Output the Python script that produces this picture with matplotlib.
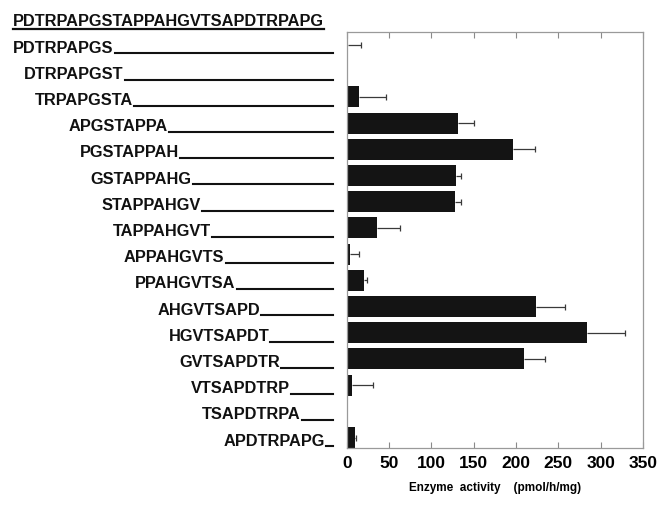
import matplotlib
matplotlib.use("Agg")
import matplotlib.pyplot as plt
from matplotlib.lines import Line2D
import numpy as np

# Parent sequence and the overlapping nonapeptides tested
header = "PDTRPAPGSTAPPAHGVTSAPDTRPAPG"
peptides = [
    "PDTRPAPGS", "DTRPAPGST", "TRPAPGSTA", "APGSTAPPA", "PGSTAPPAH",
    "GSTAPPAHG", "STAPPAHGV", "TAPPAHGVT", "APPAHGVTS", "PPAHGVTSA",
    "AHGVTSAPD", "HGVTSAPDT", "GVTSAPDTR", "VTSAPDTRP", "TSAPDTRPA",
    "APDTRPAPG",
]
# Enzyme activity (pmol/h/mg) and error (upper side only)
activity = np.array([1.5, 0, 14, 132, 197, 129, 128, 35.5, 4, 20.5,
                     224, 283.5, 210, 6.5, 0, 9.5])
error = np.array([15, 0, 33, 18, 25, 6, 7, 27, 11, 3,
                  34, 45, 24, 24, 0, 1.5])
xticks = [0, 50, 100, 150, 200, 250, 300, 350]

W, H = 662, 508
fig = plt.figure(figsize=(W / 100, H / 100), dpi=100)
ax = fig.add_axes([346.7 / W, 1 - 448 / H, (643 - 346.7) / W, (448 - 31.7) / H])

rows = np.arange(len(peptides))
ax.barh(rows, activity, height=0.8, color="#141414", zorder=2)

# One-sided error bars: whisker from the bar end with a cap at the tip
has_err = error > 0
tips = activity[has_err] + error[has_err]
ax.hlines(rows[has_err], activity[has_err], tips, color="#3a3a3a",
          lw=0.9, zorder=1)
ax.plot(tips, rows[has_err], ls="none", marker="|", ms=5, mew=0.9,
        color="#3a3a3a", zorder=1)

ax.set_xlim(0, 350)
ax.set_ylim(15.4, -0.49)
ax.set_yticks([])
ax.set_xticks(xticks)
ax.set_xticklabels([str(v) for v in xticks], fontsize=12.5, fontweight="bold",
                   family="Liberation Sans")
ax.tick_params(axis="x", direction="in", top=True, length=4, width=0.8,
               color="#8a8a8a", pad=6)
for s in ax.spines.values():
    s.set_color("#9a9a9a")
    s.set_linewidth(0.9)
ax.set_xlabel("Enzyme  activity    (pmol/h/mg)", fontsize=8.5,
              fontweight="bold", family="Liberation Sans", labelpad=8)

# Peptide labels aligned under the parent sequence, each with a leader line
fig.canvas.draw()
rend = fig.canvas.get_renderer()
label_kw = dict(fontsize=11.8, fontweight="bold", family="Liberation Sans",
                va="baseline", ha="left", color="#111111")


def baseline(i):
    return ax.transData.transform((0, i))[1] - 8


hx = 13
hy = baseline(-1)
ht = fig.text(hx / W, hy / H, header, **label_kw)
hb = ht.get_window_extent(rend)
pitch = hb.width / len(header)
fig.add_artist(Line2D([hb.x0 / W, hb.x1 / W], [(hy - 2.5) / H] * 2,
                      transform=fig.transFigure, color="#111111", lw=1.6))

line_end = 333
for i, p in enumerate(peptides):
    idx = header.find(p)
    x = hb.x0 + idx * pitch
    y = baseline(i)
    t = fig.text(x / W, y / H, p, **label_kw)
    tb = t.get_window_extent(rend)
    fig.add_artist(Line2D([(tb.x1 + 1) / W, line_end / W], [(y - 0.8) / H] * 2,
                          transform=fig.transFigure, color="#111111", lw=1.5))

fig.savefig("out.png", dpi=100)
